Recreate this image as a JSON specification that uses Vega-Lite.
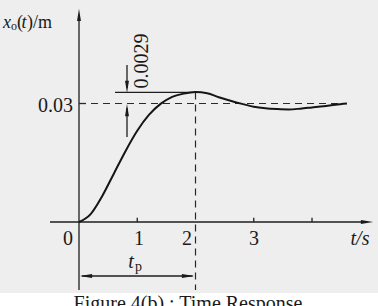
{
  "$schema": "https://vega.github.io/schema/vega-lite/v6.json",
  "width": 294,
  "height": 214,
  "autosize": {"type": "none"},
  "padding": {"left": 79, "top": 8, "right": 5, "bottom": 84},
  "background": "#eeeeee",
  "config": {"view": {"stroke": null}},
  "encoding": {
    "x": {"field": "t", "type": "quantitative", "scale": {"domain": [0, 5.047], "nice": false, "zero": false}, "axis": null},
    "y": {"field": "y", "type": "quantitative", "scale": {"domain": [0, 0.05418], "nice": false, "zero": false}, "axis": null}
  },
  "layer": [
    {
      "data": {"values": [{"t": -1.4, "t2": 5.2, "y": -0.01797, "y2": -0.0235}]},
      "mark": {"type": "rect", "color": "#ffffff"},
      "encoding": {"x2": {"field": "t2"}, "y2": {"field": "y2"}}
    },
    {
      "data": {"values": [
        {"t": 0, "t2": 0, "y": -0.01722, "y2": 0.05114},
        {"t": -0.4979, "t2": 4.91, "y": 0, "y2": 0},
        {"t": 1, "t2": 1, "y": 0, "y2": 0.0011},
        {"t": 3, "t2": 3, "y": 0, "y2": 0.0011},
        {"t": 4, "t2": 4, "y": 0, "y2": 0.0011},
        {"t": 0, "t2": 0.12, "y": 0.03, "y2": 0.03},
        {"t": 0.618, "t2": 2.0, "y": 0.0328, "y2": 0.0328},
        {"t": 0.824, "t2": 0.824, "y": 0.03975, "y2": 0.0339},
        {"t": 0.824, "t2": 0.824, "y": 0.02152, "y2": 0.02886},
        {"t": 0.05, "t2": 1.95, "y": -0.01367, "y2": -0.01367}
      ]},
      "mark": {"type": "rule", "color": "#1e1e1e", "strokeWidth": 1.3},
      "encoding": {"x2": {"field": "t2"}, "y2": {"field": "y2"}}
    },
    {
      "data": {"values": [
        {"t": 0, "t2": 4.567, "y": 0.03, "y2": 0.03},
        {"t": 2, "t2": 2, "y": 0.0328, "y2": -0.01722}
      ]},
      "mark": {"type": "rule", "color": "#2a2a2a", "strokeWidth": 1.2, "strokeDash": [7, 5]},
      "encoding": {"x2": {"field": "t2"}, "y2": {"field": "y2"}}
    },
    {
      "data": {"values": [
        {"t": 0, "y": 0},
        {"t": 0.2, "y": 0.002},
        {"t": 0.4, "y": 0.0066},
        {"t": 0.6, "y": 0.0123},
        {"t": 0.8, "y": 0.018},
        {"t": 1.0, "y": 0.0231},
        {"t": 1.2, "y": 0.0271},
        {"t": 1.4, "y": 0.0299},
        {"t": 1.6, "y": 0.0317},
        {"t": 1.8, "y": 0.0325},
        {"t": 2.0, "y": 0.0329},
        {"t": 2.2, "y": 0.0326},
        {"t": 2.4, "y": 0.0316},
        {"t": 2.6, "y": 0.0307},
        {"t": 2.8, "y": 0.0299},
        {"t": 3.0, "y": 0.0292},
        {"t": 3.2, "y": 0.0288},
        {"t": 3.4, "y": 0.0286},
        {"t": 3.6, "y": 0.0285},
        {"t": 3.8, "y": 0.0287},
        {"t": 4.0, "y": 0.029},
        {"t": 4.2, "y": 0.0293},
        {"t": 4.4, "y": 0.0297},
        {"t": 4.6, "y": 0.03}
      ]},
      "mark": {"type": "line", "color": "#151515", "strokeWidth": 2, "interpolate": "monotone"}
    },
    {
      "data": {"values": [
        {"t": 0, "y": 0.05241, "dir": "up"},
        {"t": 4.944, "y": 0, "dir": "right"},
        {"t": 0.824, "y": 0.03418, "dir": "down"},
        {"t": 0.824, "y": 0.02835, "dir": "up"},
        {"t": 0.1202, "y": -0.01367, "dir": "left"},
        {"t": 1.871, "y": -0.01367, "dir": "right"}
      ]},
      "mark": {"type": "point", "filled": true, "color": "#1a1a1a", "opacity": 1, "size": 150, "strokeWidth": 0},
      "encoding": {
        "shape": {"field": "dir", "type": "nominal", "legend": null,
          "scale": {"domain": ["up", "down", "left", "right"],
            "range": ["M0,-1L0.32,1L-0.32,1Z", "M0,1L-0.32,-1L0.32,-1Z", "M-1,0L1,-0.32L1,0.32Z", "M1,0L-1,-0.32L-1,0.32Z"]}}
      }
    },
    {
      "data": {"values": [
        {"t": -0.189, "y": -0.0058, "label": "0"},
        {"t": 1.03, "y": -0.0058, "label": "1"},
        {"t": 1.854, "y": -0.0058, "label": "2"},
        {"t": 3.004, "y": -0.0058, "label": "3"},
        {"t": 1.871, "y": -0.0223, "label": "Figure 4(b) : Time Response"}
      ]},
      "mark": {"type": "text", "font": "Liberation Serif", "fontSize": 20, "align": "center", "baseline": "alphabetic", "color": "#1a1a1a"},
      "encoding": {"text": {"field": "label"}}
    },
    {
      "data": {"values": [
        {"t": -0.103, "y": 0.02785, "label": "0.03"}
      ]},
      "mark": {"type": "text", "font": "Liberation Serif", "fontSize": 20, "align": "right", "baseline": "alphabetic", "color": "#1a1a1a"},
      "encoding": {"text": {"field": "label"}}
    },
    {
      "data": {"values": [
        {"t": -1.064, "y": 0.04911, "label": "("},
        {"t": -0.893, "y": 0.04911, "label": ")/m"}
      ]},
      "mark": {"type": "text", "font": "Liberation Serif", "fontSize": 18, "align": "left", "baseline": "alphabetic", "color": "#1a1a1a"},
      "encoding": {"text": {"field": "label"}}
    },
    {
      "data": {"values": [
        {"t": -1.167, "y": 0.0486, "label": "o"}
      ]},
      "mark": {"type": "text", "font": "Liberation Serif", "fontSize": 12, "align": "left", "baseline": "alphabetic", "color": "#1a1a1a"},
      "encoding": {"text": {"field": "label"}}
    },
    {
      "data": {"values": [
        {"t": 0.961, "y": -0.0124, "label": "p"}
      ]},
      "mark": {"type": "text", "font": "Liberation Serif", "fontSize": 14, "align": "left", "baseline": "alphabetic", "color": "#1a1a1a"},
      "encoding": {"text": {"field": "label"}}
    },
    {
      "data": {"values": [
        {"t": -1.305, "y": 0.04911, "label": "x"},
        {"t": -0.985, "y": 0.04911, "label": "t"}
      ]},
      "mark": {"type": "text", "font": "Liberation Serif", "fontSize": 18, "fontStyle": "italic", "align": "left", "baseline": "alphabetic", "color": "#1a1a1a"},
      "encoding": {"text": {"field": "label"}}
    },
    {
      "data": {"values": [
        {"t": 4.824, "y": -0.0058, "label": "t/s"},
        {"t": 0.893, "y": -0.01165, "label": "t"}
      ]},
      "mark": {"type": "text", "font": "Liberation Serif", "fontSize": 20, "fontStyle": "italic", "align": "center", "baseline": "alphabetic", "color": "#1a1a1a"},
      "encoding": {"text": {"field": "label"}}
    },
    {
      "data": {"values": [
        {"t": 1.082, "y": 0.04076, "label": "0.0029"}
      ]},
      "mark": {"type": "text", "font": "Liberation Serif", "fontSize": 20, "angle": 270, "align": "center", "baseline": "middle", "color": "#1a1a1a"},
      "encoding": {"text": {"field": "label"}}
    }
  ]
}
